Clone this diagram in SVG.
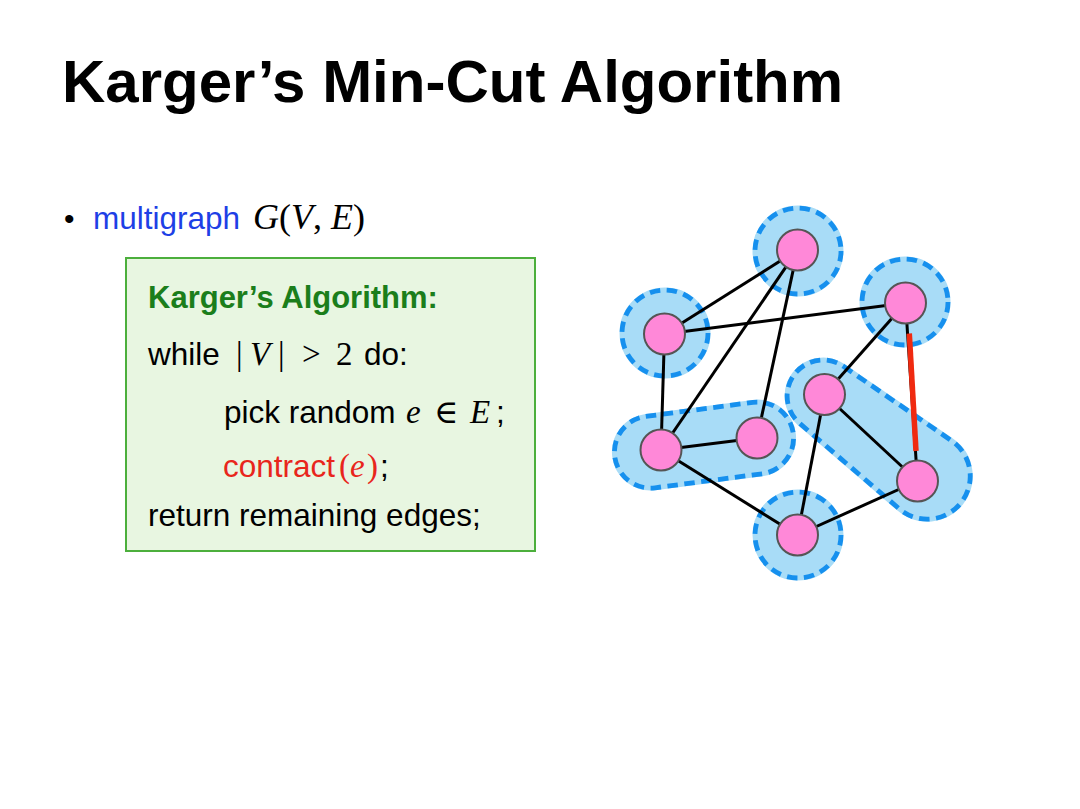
<svg xmlns="http://www.w3.org/2000/svg" xmlns:xlink="http://www.w3.org/1999/xlink" width="1080" height="809" viewBox="0 0 1080 809">
<style>
.sans{font-family:"Liberation Sans",Arial,sans-serif}
.serif{font-family:"Liberation Serif","DejaVu Serif",serif}
.it{font-style:italic}
.bg{fill:#a8dcf7;stroke:#a8dcf7;stroke-width:5}
.dash{fill:none;stroke:#1690ee;stroke-width:4.8;stroke-dasharray:10.5 6.5}
.edge{stroke:#000;stroke-width:3;fill:none}
.node{fill:#ff88d8;stroke:#555;stroke-width:2}
</style>
<defs>
<circle id="hA" cx="798" cy="251" r="43"/>
<circle id="hB" cx="665" cy="333" r="43"/>
<circle id="hC" cx="905" cy="302" r="43"/>
<circle id="hI" cx="798" cy="535" r="43"/>
<rect id="hFG" x="614" y="409" width="180" height="72" rx="36" ry="36" transform="rotate(-7.45 704.5 445)"/>
<path id="hDH" d="M843.4 366.3 L951.4 440.6 A43 43 0 1 1 899 508.6 L799.6 423.3 A36 36 0 0 1 843.4 366.3 Z"/>
</defs>
<rect width="1080" height="809" fill="#fff"/>
<text class="sans" x="62" y="102" font-size="60" font-weight="bold" fill="#000">Karger’s Min-Cut Algorithm</text>
<g id="bullet">
<text class="sans" x="64" y="229" font-size="30" fill="#000">•</text>
<text class="sans" x="93" y="229" font-size="31.5" fill="#1e3fe6">multigraph</text>
<text class="serif" x="253" y="229" font-size="36" fill="#000"><tspan class="it">G</tspan>(<tspan class="it">V</tspan>, <tspan class="it">E</tspan>)</text>
</g>
<g id="algorithm-box">
<rect x="126" y="258" width="409" height="293" fill="#e8f6e1" stroke="#4caf3c" stroke-width="2"/>
<text class="sans" x="148" y="308" font-size="31" font-weight="bold" fill="#1b7e1b">Karger’s Algorithm:</text>
<text class="sans" x="148" y="365" font-size="31.5" fill="#000">while</text>
<text class="serif" x="236" y="365" font-size="33" fill="#000">|</text>
<text class="serif it" x="250" y="365" font-size="33" fill="#000">V</text>
<text class="serif" x="278" y="365" font-size="33" fill="#000">|</text>
<text class="serif" x="302" y="365" font-size="33" fill="#000">&gt;</text>
<text class="serif" x="336" y="365" font-size="33" fill="#000">2</text>
<text class="sans" x="364" y="365" font-size="31.5" fill="#000">do:</text>
<text class="sans" x="224" y="423" font-size="31.5" fill="#000">pick random</text>
<text class="serif it" x="406" y="423" font-size="33" fill="#000">e</text>
<text class="serif" x="434" y="423" font-size="33" fill="#000">∈</text>
<text class="serif it" x="470" y="423" font-size="33" fill="#000">E</text>
<text class="sans" x="496" y="423" font-size="31.5" fill="#000">;</text>
<text class="sans" x="223" y="477" font-size="31.5" fill="#e8261c">contract</text>
<text class="serif" x="339" y="477" font-size="33" fill="#e8261c">(</text>
<text class="serif it" x="350" y="477" font-size="33" fill="#e8261c">e</text>
<text class="serif" x="367" y="477" font-size="33" fill="#e8261c">)</text>
<text class="sans" x="380" y="477" font-size="31.5" fill="#000">;</text>
<text class="sans" x="148" y="526" font-size="31.5" fill="#000">return remaining edges;</text>
</g>
<g id="supernodes">
<use xlink:href="#hA" class="bg"/><use xlink:href="#hA" class="dash"/>
<use xlink:href="#hB" class="bg"/><use xlink:href="#hB" class="dash"/>
<use xlink:href="#hC" class="bg"/><use xlink:href="#hC" class="dash"/>
<use xlink:href="#hI" class="bg"/><use xlink:href="#hI" class="dash"/>
<use xlink:href="#hFG" class="bg"/><use xlink:href="#hFG" class="dash"/>
<use xlink:href="#hDH" class="bg"/><use xlink:href="#hDH" class="dash"/>
</g>
<g id="edges">
<line class="edge" x1="797.5" y1="250" x2="664.5" y2="334"/>
<line class="edge" x1="797.5" y1="250" x2="661" y2="450"/>
<line class="edge" x1="797.5" y1="250" x2="757" y2="438"/>
<line class="edge" x1="664.5" y1="334" x2="905.5" y2="303"/>
<line class="edge" x1="664.5" y1="334" x2="661" y2="450"/>
<line class="edge" x1="661" y1="450" x2="757" y2="438"/>
<line class="edge" x1="661" y1="450" x2="797.5" y2="535"/>
<line class="edge" x1="905.5" y1="303" x2="824.5" y2="394.5"/>
<line class="edge" x1="905.5" y1="303" x2="917.5" y2="481"/>
<line class="edge" x1="824.5" y1="394.5" x2="917.5" y2="481"/>
<line class="edge" x1="824.5" y1="394.5" x2="797.5" y2="535"/>
<line class="edge" x1="797.5" y1="535" x2="917.5" y2="481"/>
<line x1="909.3" y1="333.5" x2="916" y2="451" stroke="#f02a10" stroke-width="5.5"/>
</g>
<g id="node-A"><circle class="node" cx="797.5" cy="250" r="20.5"/></g>
<g id="node-B"><circle class="node" cx="664.5" cy="334" r="20.5"/></g>
<g id="node-C"><circle class="node" cx="905.5" cy="303" r="20.5"/></g>
<g id="node-D"><circle class="node" cx="824.5" cy="394.5" r="20.5"/></g>
<g id="node-F"><circle class="node" cx="661" cy="450" r="20.5"/></g>
<g id="node-G"><circle class="node" cx="757" cy="438" r="20.5"/></g>
<g id="node-H"><circle class="node" cx="917.5" cy="481" r="20.5"/></g>
<g id="node-I"><circle class="node" cx="797.5" cy="535" r="20.5"/></g>
</svg>
